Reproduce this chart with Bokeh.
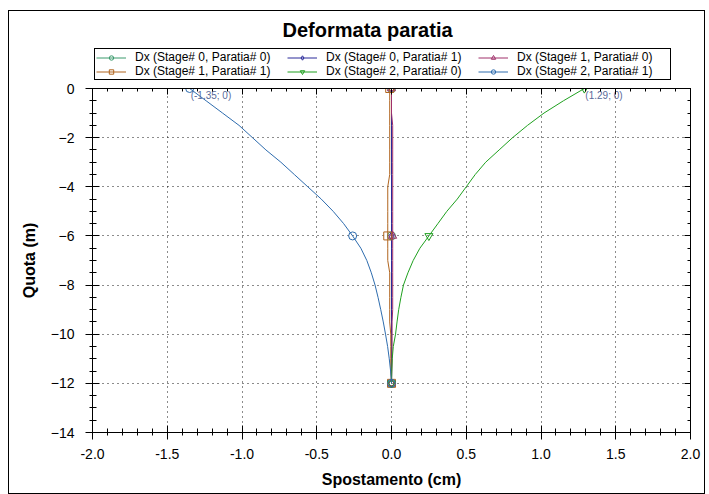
from bokeh.plotting import figure
from bokeh.layouts import column
from bokeh.models import (LinearAxis, SingleIntervalTicker, NumeralTickFormatter,
                          Legend, LegendItem, Range1d, ColumnDataSource,
                          CustomJSTickFormatter)
from bokeh.core.properties import value
from bokeh.embed import file_html
from bokeh.resources import INLINE

# ---------------- data ----------------
depth = [0, -0.5, -1, -1.5, -2, -2.5, -3, -3.5, -4, -4.5, -5, -5.5, -6,
         -6.5, -7, -7.5, -8, -8.5, -9, -9.5, -10, -10.5, -11, -11.5, -12]

dx_s0_p0 = [0.0] * 25
dx_s0_p1 = [0.0] * 25
dx_s1_p0 = [0.0, 0.0, 0.0, 0.008, 0.008, 0.008, 0.008, 0.008, 0.008, 0.008,
            0.008, 0.008, 0.008, 0.008, 0.008, 0.008, 0.008, 0.008, 0.008,
            0.004, 0.004, 0.004, 0.004, 0.002, 0.0]
dx_s1_p1 = [-0.012, -0.012, -0.012, -0.012, -0.012, -0.012, -0.012, -0.012,
            -0.025, -0.025, -0.025, -0.025, -0.025, -0.025, -0.025,
            -0.012, -0.012, -0.012, -0.012, -0.012,
            -0.005, -0.005, -0.005, -0.005, 0.0]
dx_s2_p0 = [1.29, 1.15, 1.02, 0.91, 0.81, 0.72, 0.63, 0.56, 0.50, 0.44,
            0.37, 0.31, 0.25, 0.19, 0.145, 0.11, 0.08, 0.063, 0.048, 0.037,
            0.027, 0.012, 0.005, 0.002, 0.0]
dx_s2_p1 = [-1.35, -1.24, -1.13, -1.02, -0.93, -0.84, -0.74, -0.65, -0.56,
            -0.47, -0.39, -0.32, -0.26, -0.205, -0.165, -0.135, -0.11, -0.09,
            -0.072, -0.055, -0.04, -0.026, -0.015, -0.006, 0.0]

marker_idx = [0, 12, 24]

series_labels = ["Dx (Stage# 0, Paratia# 0)", "Dx (Stage# 0, Paratia# 1)",
                 "Dx (Stage# 1, Paratia# 0)", "Dx (Stage# 1, Paratia# 1)",
                 "Dx (Stage# 2, Paratia# 0)", "Dx (Stage# 2, Paratia# 1)"]
series_values = [dx_s0_p0, dx_s0_p1, dx_s1_p0, dx_s1_p1, dx_s2_p0, dx_s2_p1]
series_colors = ["#3A9A6C", "#2A2A9A", "#A0306A", "#B0641E", "#1FA01F", "#2E6CAE"]
series_markers = ["circle", "diamond", "triangle", "square", "inverted_triangle", "circle"]

# max-displacement annotations
ann_x = [dx_s2_p1[0], dx_s2_p0[0]]
ann_y = [depth[0], depth[0]]
ann_text = ["(%.2f; %g)" % (x, y) for x, y in zip(ann_x, ann_y)]

FONT = "Liberation Sans"

# ---------------- header: title + legend ----------------
ph = figure(width=695, height=69, output_backend="svg", toolbar_location=None,
            x_range=Range1d(-2, 2), y_range=Range1d(100, 101),
            x_axis_location=None, y_axis_location=None,
            min_border_left=83, min_border_right=14, min_border_top=0,
            min_border_bottom=0)
ph.grid.visible = False
ph.outline_line_color = None
ph.title.text = "Deformata paratia"
ph.title.align = "left"
ph.title.offset = 190
ph.title.text_font = FONT
ph.title.text_font_size = "20px"
ph.title.text_font_style = "bold"
ph.title.text_color = "black"
ph.title.standoff = 10

# ---------------- main plot ----------------
p = figure(width=695, height=413, output_backend="svg", toolbar_location=None,
           x_range=Range1d(-2, 2), y_range=Range1d(-14, 0),
           min_border_left=83, min_border_right=14, min_border_top=8,
           min_border_bottom=61)

p.outline_line_color = "black"
p.outline_line_alpha = 1.0
p.outline_line_width = 1

xt = SingleIntervalTicker(interval=0.5, num_minor_ticks=5)
yt = SingleIntervalTicker(interval=2, num_minor_ticks=4)

xa = p.xaxis[0]
xa.ticker = xt
xa.formatter = NumeralTickFormatter(format="0.0")
ya = p.yaxis[0]
ya.ticker = yt

for ax in (xa, ya):
    ax.major_tick_in = 7
    ax.major_tick_out = 7
    ax.minor_tick_in = 4
    ax.minor_tick_out = 3
    ax.axis_line_color = "black"
    ax.major_tick_line_color = "black"
    ax.minor_tick_line_color = "black"
    ax.major_label_text_font = FONT
    ax.major_label_text_font_size = "14px"
    ax.major_label_text_color = "black"
    ax.axis_label_text_font = FONT
    ax.axis_label_text_font_size = "16px"
    ax.axis_label_text_font_style = "bold"
    ax.axis_label_text_color = "black"

xa.axis_label = "Spostamento (cm)"
ya.axis_label = "Quota (m)"
xa.major_label_standoff = 9
xa.axis_label_standoff = 9
ya.major_label_standoff = 11
ya.axis_label_standoff = 10

blank = CustomJSTickFormatter(code="return ''")
top_ax = LinearAxis(ticker=SingleIntervalTicker(interval=0.5, num_minor_ticks=5),
                    formatter=blank)
right_ax = LinearAxis(ticker=SingleIntervalTicker(interval=2, num_minor_ticks=4),
                      formatter=blank)
for ax in (top_ax, right_ax):
    ax.major_tick_in = 6
    ax.major_tick_out = 0
    ax.minor_tick_in = 3
    ax.minor_tick_out = 0
    ax.major_label_standoff = 0
    ax.axis_line_color = "black"
    ax.major_tick_line_color = "black"
    ax.minor_tick_line_color = "black"
p.add_layout(top_ax, "above")
p.add_layout(right_ax, "right")

for g in (p.xgrid[0], p.ygrid[0]):
    g.grid_line_color = "black"
    g.grid_line_dash = "1 4"
    g.grid_line_alpha = 0.9
p.xgrid[0].ticker = xt
p.ygrid[0].ticker = yt

items = []
for lab, vals, col, mk in zip(series_labels, series_values, series_colors, series_markers):
    src = ColumnDataSource(dict(x=vals, y=depth))
    msrc = ColumnDataSource(dict(x=[vals[i] for i in marker_idx],
                                 y=[depth[i] for i in marker_idx]))
    p.line("x", "y", source=src, line_color=col, line_width=1)
    p.scatter("x", "y", source=msrc, marker=mk, size=8, line_color=col,
              fill_color="white", fill_alpha=0.0, line_width=1)
    # legend proxies in the header (outside its visible range)
    h1 = ph.line("x", "y", source=src, line_color=col, line_width=1)
    h2 = ph.scatter("x", "y", source=msrc, marker=mk, size=7, line_color=col,
                    fill_color="white", fill_alpha=0.0, line_width=1)
    items.append(LegendItem(label=lab, renderers=[h1, h2]))

p.text(x=ann_x, y=ann_y, text=ann_text, text_font=value(FONT),
       text_font_size="10px", text_color="#5A6A9A", text_baseline="top",
       x_offset=1, y_offset=1)

legend = Legend(items=items, location=(2, 0), orientation="horizontal", ncols=3)
legend.label_text_font = FONT
legend.label_text_font_size = "12px"
legend.label_text_color = "black"
legend.label_height = 11
legend.glyph_height = 11
legend.glyph_width = 30
legend.label_standoff = 9
legend.label_width = 152
legend.spacing = 0
legend.padding = 1
legend.margin = 0
legend.border_line_color = "black"
legend.border_line_width = 1
legend.border_line_alpha = 1
legend.background_fill_color = "white"
legend.background_fill_alpha = 1
ph.add_layout(legend, "center")

layout = column(ph, p)
layout.styles = {"border": "1px solid #000000", "margin-left": "8px", "margin-top": "10px"}

open("out.html", "w").write(file_html(layout, INLINE))
